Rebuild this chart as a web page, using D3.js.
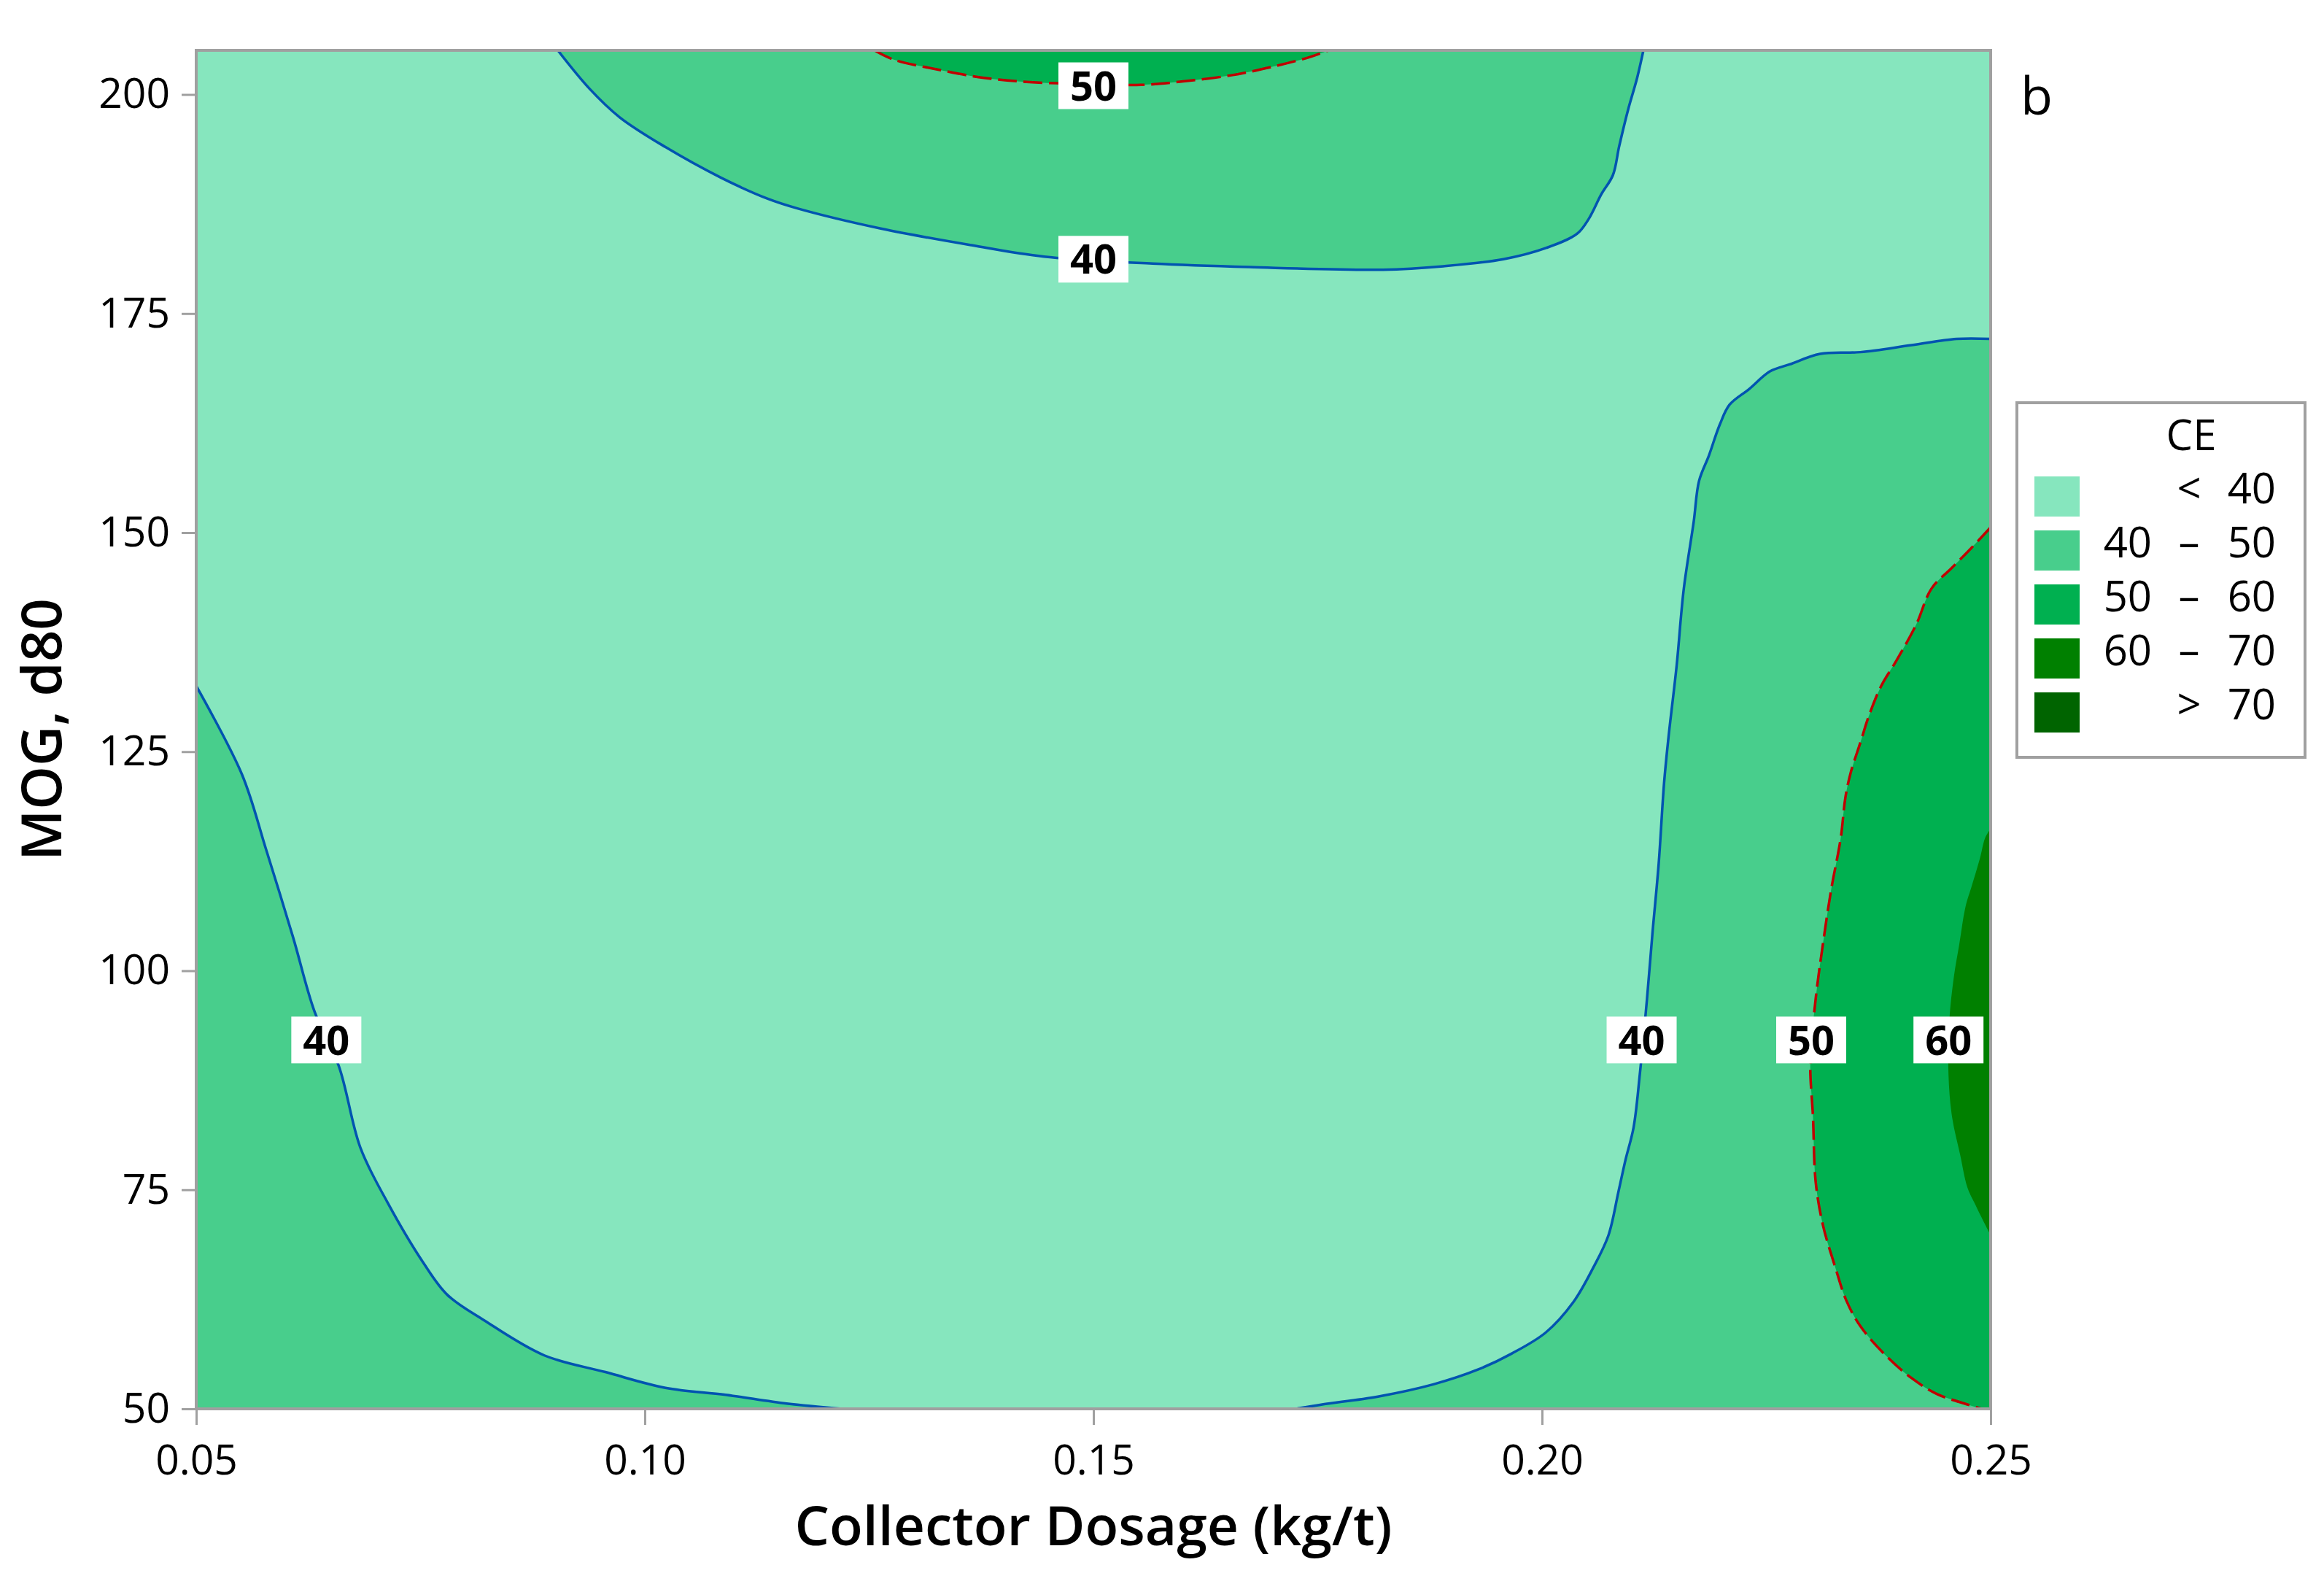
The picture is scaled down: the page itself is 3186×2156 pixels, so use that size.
<!DOCTYPE html>
<html>
<head>
<meta charset="utf-8">
<script src="https://cdn.jsdelivr.net/npm/d3@7"></script>
<style>
  html, body { margin: 0; padding: 0; background: #ffffff; }
  svg { display: block; }
</style>
</head>
<body>
<script>
// ---------------- DATA ----------------
const xDomain = [0.05, 0.25];
const yDomain = [50, 205.04];
const xTicks = [0.05, 0.10, 0.15, 0.20, 0.25];
const yTicks = [50, 75, 100, 125, 150, 175, 200];
const xTitle = "Collector Dosage (kg/t)";
const yTitle = "MOG, d80";
const panelLetter = "b";

// contour lines in data coordinates [Collector Dosage, MOG d80]
const contour40Left = [[0.05,132.5],[0.0551,122.4],[0.0578,113.8],[0.0608,103.8],[0.0632,95.3],[0.0659,89.1],[0.0683,79.8],[0.0713,73.6],[0.0753,66.7],[0.0780,63.0],[0.0821,60.1],[0.0888,56.1],[0.0956,54.2],[0.1023,52.4],[0.1090,51.6],[0.1158,50.6],[0.1220,50.0]];
const contour40Top = [[0.0903,205.04],[0.0938,200.7],[0.0972,197.4],[0.1023,194.0],[0.1085,190.5],[0.1137,188.1],[0.1170,187.0],[0.1263,184.7],[0.1364,182.8],[0.1445,181.5],[0.1566,180.7],[0.1674,180.3],[0.1823,180.0],[0.1890,180.4],[0.1957,181.2],[0.2005,182.5],[0.2039,184.1],[0.2052,185.8],[0.2066,188.6],[0.2079,190.8],[0.2086,194.1],[0.2096,198.3],[0.2106,201.9],[0.2113,205.04]];
const contour50Top = [[0.1256,205.04],[0.1277,204.0],[0.1324,202.9],[0.1378,201.9],[0.1432,201.4],[0.1499,201.2],[0.1553,201.1],[0.1600,201.5],[0.1654,202.2],[0.1701,203.2],[0.1742,204.3],[0.1762,205.04]];
const contour40Right = [[0.25,172.1],[0.2462,172.1],[0.2412,171.4],[0.2355,170.6],[0.2310,170.4],[0.2276,169.2],[0.2254,168.4],[0.2231,166.4],[0.2209,164.6],[0.2198,162.3],[0.2186,158.8],[0.2175,155.9],[0.2169,151.2],[0.2158,143.6],[0.2150,134.8],[0.2141,126.7],[0.2136,121.4],[0.2130,112.2],[0.2123,104.2],[0.2117,96.8],[0.2109,88.2],[0.2102,82.1],[0.2093,78.4],[0.2085,74.7],[0.2074,69.8],[0.2057,66.1],[0.2035,62.2],[0.2004,58.7],[0.1966,56.3],[0.1929,54.5],[0.1879,52.8],[0.1817,51.4],[0.1755,50.5],[0.1725,50.0]];
const contour50Right = [[0.25,150.6],[0.2479,148.3],[0.2457,146.0],[0.2434,143.6],[0.2417,139.5],[0.2395,135.4],[0.2378,132.5],[0.2364,129.0],[0.2355,126.1],[0.2344,122.6],[0.2338,119.7],[0.2333,115.2],[0.2322,109.1],[0.2313,103.0],[0.2305,96.8],[0.2299,89.5],[0.2302,83.3],[0.2305,75.9],[0.2313,71.0],[0.2327,66.1],[0.2339,62.4],[0.2355,59.4],[0.2384,56.0],[0.2412,53.5],[0.2440,51.7],[0.2474,50.5],[0.2490,50.0]];
const contour60Right = [[0.25,116.2],[0.2494,115.2],[0.2488,112.8],[0.2479,109.7],[0.2472,107.3],[0.2465,103.0],[0.2459,99.3],[0.2454,94.4],[0.2453,88.2],[0.2457,83.3],[0.2466,79.0],[0.2474,75.3],[0.2482,73.5],[0.2494,71.0],[0.25,69.8]];

// contour labels (value, position in data coordinates)
const labelValues = ["40", "40", "50", "40", "50", "60"];
const labelX = [0.0645, 0.15, 0.15, 0.2111, 0.2300, 0.2453];
const labelY = [92.1, 181.2, 201.0, 92.1, 92.1, 92.1];

// legend
const legendTitle = "CE";
const bandLow = ["", "40", "50", "60", ""];
const bandOp = ["<", "–", "–", "–", ">"];
const bandHigh = ["40", "50", "60", "70", "70"];
const bandColors = ["#86E6BE", "#48CE8C", "#00B050", "#008000", "#006400"];

// ---------------- DRAW ----------------
const W = 3186, H = 2156;
const plot = { left: 269, right: 2729, top: 69, bottom: 1931 };
const font = "'Open Sans', 'Noto Sans', sans-serif";

const svg = d3.select("body").append("svg").attr("width", W).attr("height", H)
  .style("font-family", font);
svg.append("rect").attr("width", W).attr("height", H).attr("fill", "#fff");

const x = d3.scaleLinear().domain(xDomain).range([plot.left, plot.right]);
const y = d3.scaleLinear().domain(yDomain).range([plot.bottom, plot.top]);

svg.append("defs").append("clipPath").attr("id", "clip")
  .append("rect").attr("x", plot.left).attr("y", plot.top)
  .attr("width", plot.right - plot.left).attr("height", plot.bottom - plot.top);

const g = svg.append("g").attr("clip-path", "url(#clip)");
const line = d3.line().x(d => x(d[0])).y(d => y(d[1])).curve(d3.curveCatmullRom.alpha(0.5));

// background band (< 40)
g.append("rect").attr("x", plot.left).attr("y", plot.top)
  .attr("width", plot.right - plot.left).attr("height", plot.bottom - plot.top)
  .attr("fill", bandColors[0]);

const ymin = yDomain[0], xmax = xDomain[1], xmin = xDomain[0];
const regions = [
  { pts: contour40Left, corner: [xmin, ymin], c: bandColors[1] },
  { pts: contour40Top, corner: null, c: bandColors[1] },
  { pts: contour40Right, corner: [xmax, ymin], c: bandColors[1] },
  { pts: contour50Top, corner: null, c: bandColors[2] },
  { pts: contour50Right, corner: [xmax, ymin], c: bandColors[2] },
  { pts: contour60Right, corner: null, c: bandColors[3] }
];
g.selectAll("path.region").data(regions).join("path")
  .attr("class", "region")
  .attr("d", d => line(d.pts) + (d.corner ? `L${x(d.corner[0])},${y(d.corner[1])}` : "") + "Z")
  .attr("fill", d => d.c);

// contour lines
const lines40 = [contour40Left, contour40Top, contour40Right];
const lines50 = [contour50Top, contour50Right];
g.selectAll("path.l40").data(lines40).join("path").attr("class", "l40")
  .attr("d", line).attr("fill", "none").attr("stroke", "#0054B0").attr("stroke-width", 3.5);
g.selectAll("path.l50").data(lines50).join("path").attr("class", "l50")
  .attr("d", line).attr("fill", "none").attr("stroke", "#C00000").attr("stroke-width", 3.5)
  .attr("stroke-dasharray", "26,9");

// contour labels
const lab = g.selectAll("g.lab").data(labelValues).join("g").attr("class", "lab")
  .attr("transform", (d, i) => `translate(${x(labelX[i])},${y(labelY[i])})`);
lab.append("rect").attr("x", -48).attr("y", -32).attr("width", 96).attr("height", 64).attr("fill", "#fff");
lab.append("text").text(d => d).attr("text-anchor", "middle").attr("dy", "0.36em")
  .attr("font-size", 56).attr("font-weight", 700).attr("fill", "#000");

// axes
const xAxis = d3.axisBottom(x).tickValues(xTicks).tickFormat(d3.format(".2f")).tickSize(22).tickPadding(14);
const yAxis = d3.axisLeft(y).tickValues(yTicks).tickFormat(d3.format("d")).tickSize(20).tickPadding(16);
const gx = svg.append("g").attr("transform", `translate(0,${plot.bottom})`).call(xAxis);
const gy = svg.append("g").attr("transform", `translate(${plot.left},0)`).call(yAxis);
[gx, gy].forEach(a => {
  a.select(".domain").remove();
  a.selectAll(".tick line").attr("stroke", "#A0A0A0").attr("stroke-width", 3);
  a.selectAll(".tick text").attr("font-size", 57).attr("fill", "#000").style("font-family", font);
});
gx.selectAll(".tick text").attr("dy", "0.95em");

// frame
svg.append("rect").attr("x", plot.left).attr("y", plot.top)
  .attr("width", plot.right - plot.left).attr("height", plot.bottom - plot.top)
  .attr("fill", "none").attr("stroke", "#A0A0A0").attr("stroke-width", 4);

// axis titles
svg.append("text").text(xTitle).attr("x", (plot.left + plot.right) / 2).attr("y", 2118)
  .attr("text-anchor", "middle").attr("font-size", 75).attr("font-weight", 600).attr("fill", "#000");
svg.append("text").text(yTitle)
  .attr("transform", `translate(84,${(plot.top + plot.bottom) / 2}) rotate(-90)`)
  .attr("text-anchor", "middle").attr("font-size", 76).attr("font-weight", 600).attr("fill", "#000");

// panel letter
svg.append("text").text(panelLetter).attr("x", 2770).attr("y", 157)
  .attr("font-size", 72).attr("fill", "#000");

// legend
const lg = svg.append("g");
lg.append("rect").attr("x", 2765).attr("y", 552).attr("width", 395).attr("height", 486)
  .attr("fill", "#fff").attr("stroke", "#A0A0A0").attr("stroke-width", 4);
lg.append("text").text(legendTitle).attr("x", 3004).attr("y", 617).attr("text-anchor", "middle")
  .attr("font-size", 58).attr("fill", "#000");
const rows = lg.selectAll("g.row").data(bandColors).join("g").attr("class", "row")
  .attr("transform", (d, i) => `translate(0,${653 + i * 74})`);
rows.append("rect").attr("x", 2789).attr("y", 0).attr("width", 62).attr("height", 55).attr("fill", d => d);
rows.append("text").text((d, i) => bandLow[i]).attr("x", 2950).attr("y", 37).attr("text-anchor", "end")
  .attr("font-size", 58).attr("fill", "#000");
rows.append("text").text((d, i) => bandOp[i]).attr("x", 3001).attr("y", 37).attr("text-anchor", "middle")
  .attr("font-size", 58).attr("fill", "#000");
rows.append("text").text((d, i) => bandHigh[i]).attr("x", 3120).attr("y", 37).attr("text-anchor", "end")
  .attr("font-size", 58).attr("fill", "#000");
</script>
</body>
</html>
